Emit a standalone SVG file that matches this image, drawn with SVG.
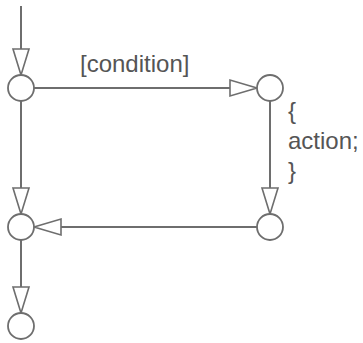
<svg xmlns="http://www.w3.org/2000/svg" width="363" height="343" viewBox="0 0 363 343">
<style>
.edge{stroke:#6e6e6e;stroke-width:2;fill:none}
.head{stroke:#6e6e6e;stroke-width:1.6;fill:#fff;stroke-linejoin:miter}
.node{stroke:#6e6e6e;stroke-width:1.8;fill:#fff}
.lbl{font-family:"Liberation Sans",Arial,sans-serif;font-size:24px;fill:#555}
</style>
<rect width="363" height="343" fill="#fff"/>
<g id="connectors">
<line class="edge" x1="21" y1="6" x2="21" y2="49"/>
<polygon class="head" points="13,49 29,49 21,75"/>
<line class="edge" x1="34" y1="88" x2="230" y2="88"/>
<polygon class="head" points="230,80 230,96 257,88"/>
<line class="edge" x1="270" y1="101" x2="270" y2="188"/>
<polygon class="head" points="262,188 278,188 270,214"/>
<line class="edge" x1="257" y1="227" x2="61" y2="227"/>
<polygon class="head" points="61,219 61,235 34,227"/>
<line class="edge" x1="21" y1="101" x2="21" y2="188"/>
<polygon class="head" points="13,188 29,188 21,214"/>
<line class="edge" x1="21" y1="240" x2="21" y2="287"/>
<polygon class="head" points="13,287 29,287 21,313"/>
<text class="lbl" x="80" y="72">[condition]</text>
</g>
<g id="n1"><circle class="node" cx="21" cy="88" r="13"/></g>
<g id="n2"><circle class="node" cx="270" cy="88" r="13"/>
<text class="lbl" x="288" y="119">{</text>
<text class="lbl" x="288" y="149">action;</text>
<text class="lbl" x="288" y="179">}</text>
</g>
<g id="n3"><circle class="node" cx="270" cy="227" r="13"/></g>
<g id="n4"><circle class="node" cx="21" cy="227" r="13"/></g>
<g id="n5"><circle class="node" cx="21" cy="326" r="13"/></g>
</svg>
